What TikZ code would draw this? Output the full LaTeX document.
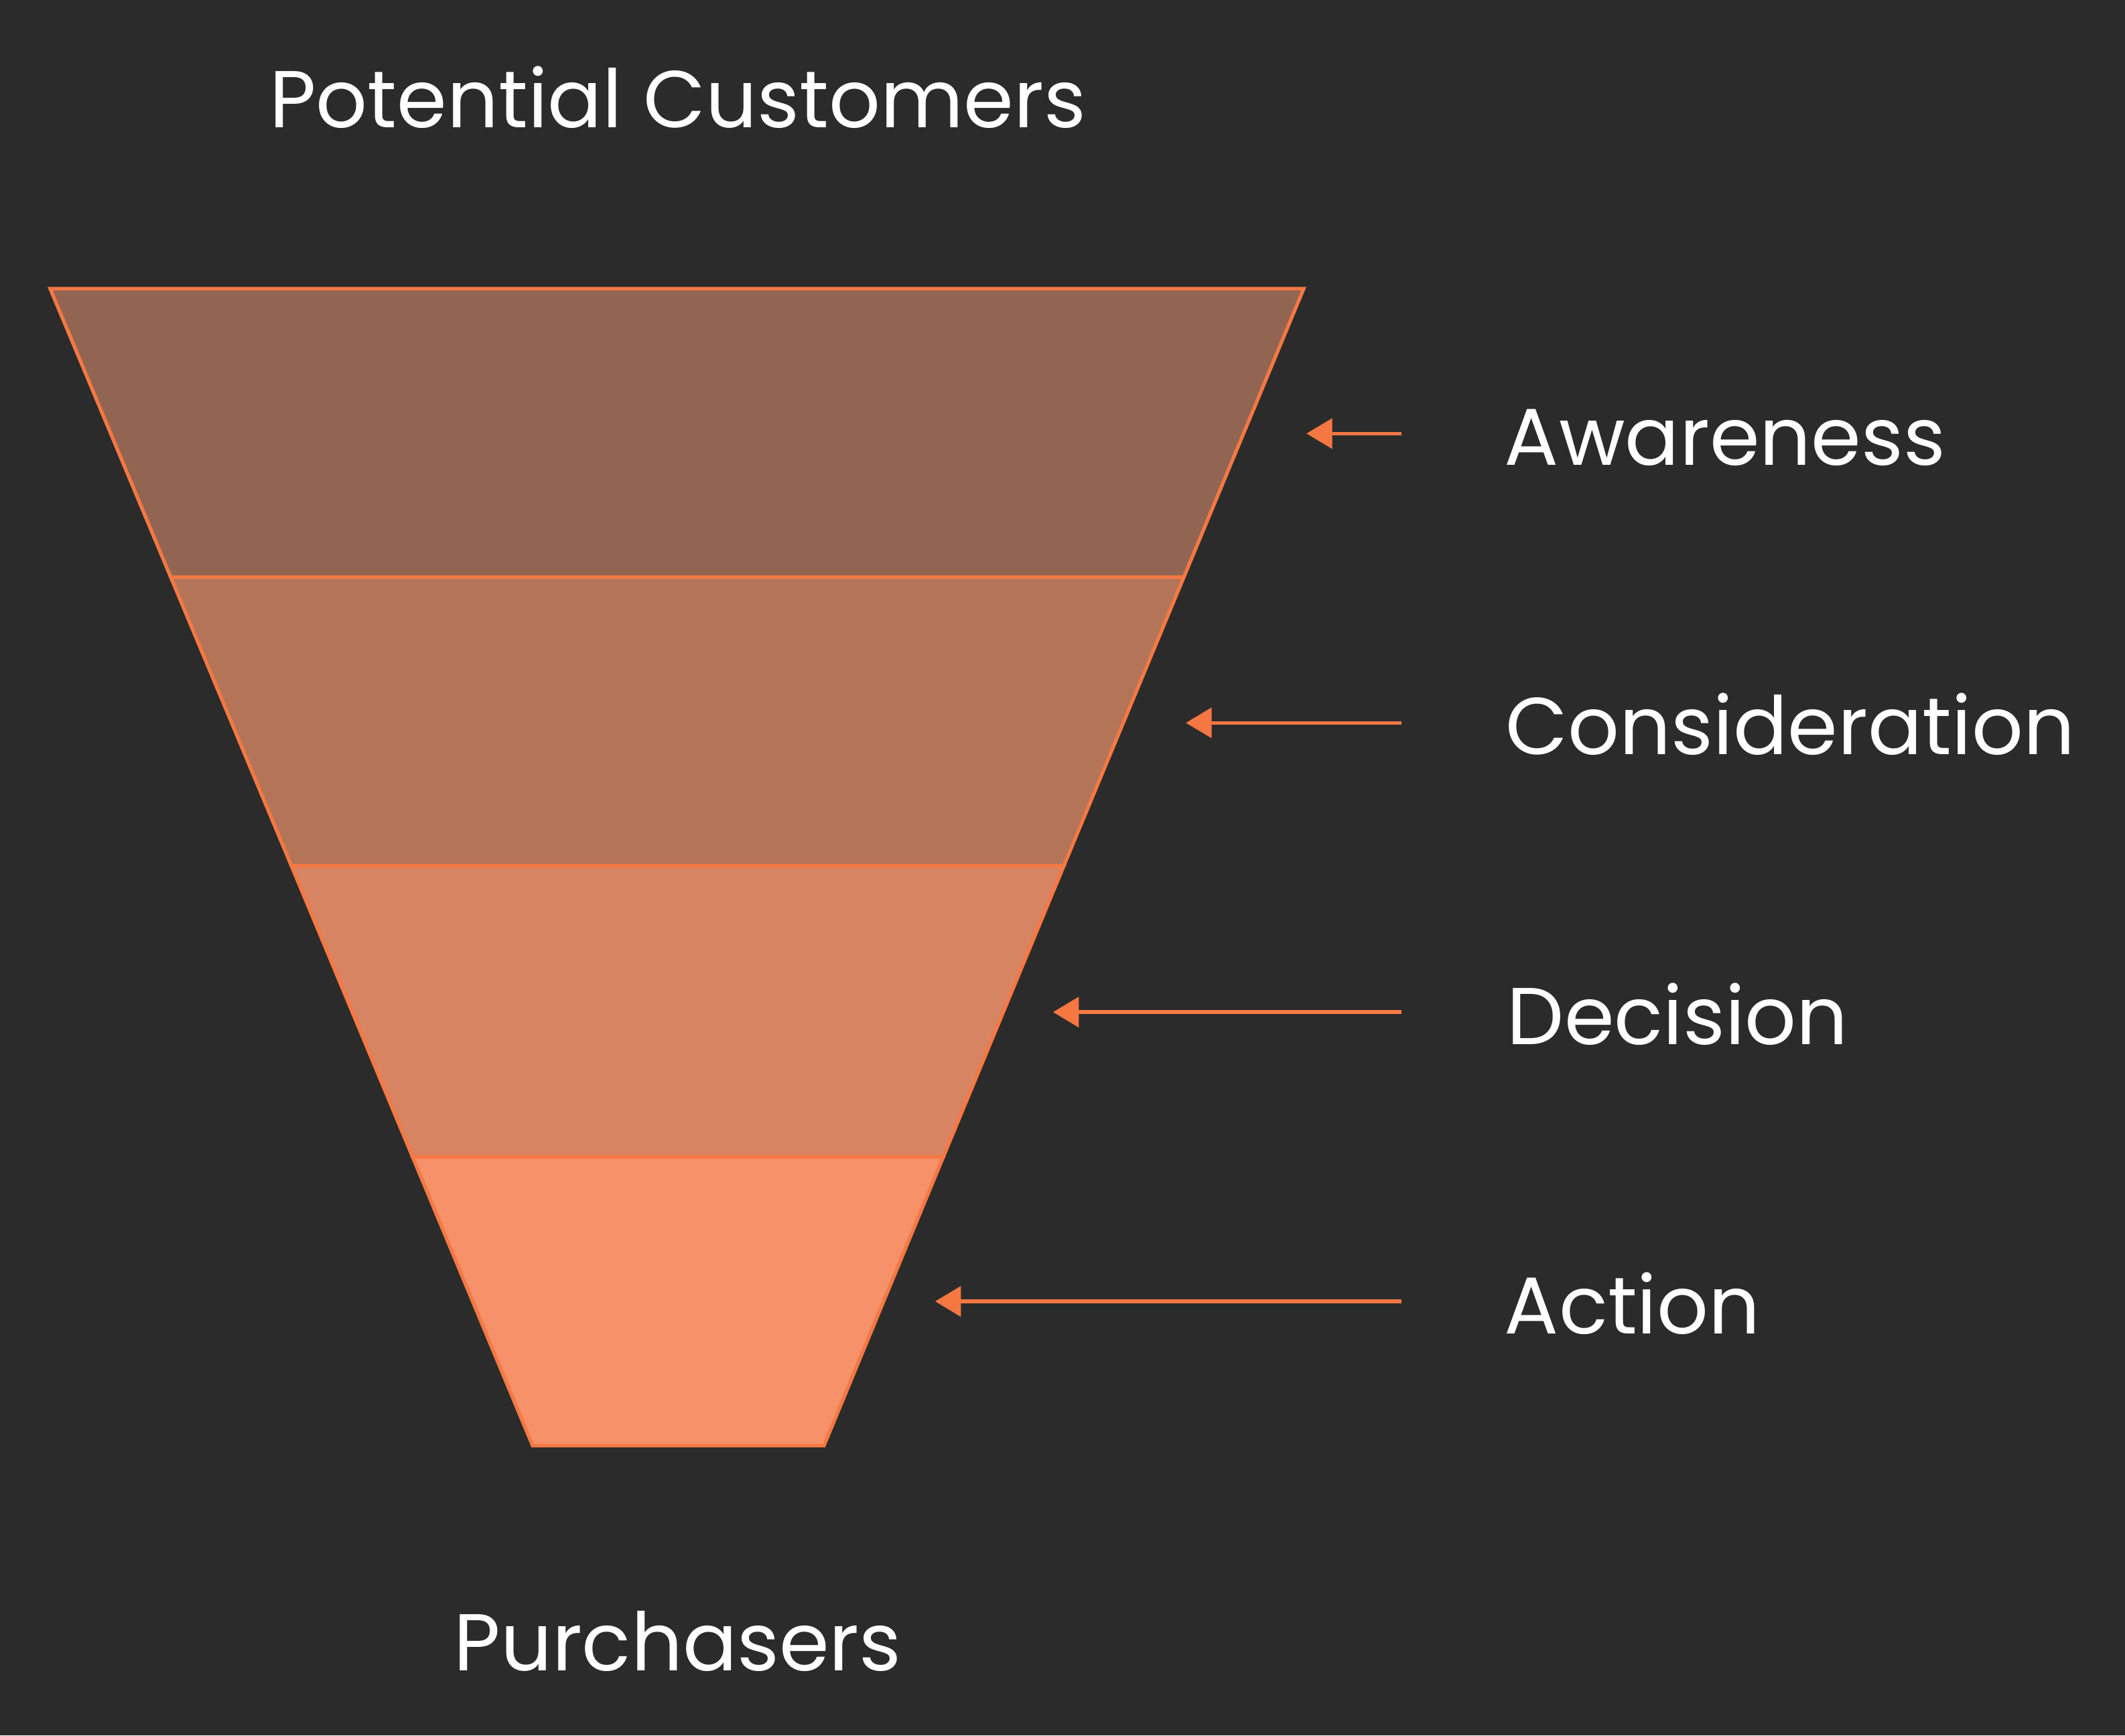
\documentclass[tikz,border=0pt]{standalone}
\usepackage{fontspec}
\setmainfont{Poppins}
\usetikzlibrary{arrows.meta}
\definecolor{bg}{HTML}{2B2B2B}
\definecolor{edge}{HTML}{F57843}
\definecolor{bandA}{HTML}{916551}
\definecolor{bandB}{HTML}{B37458}
\definecolor{bandC}{HTML}{D78462}
\definecolor{bandD}{HTML}{F7916A}
\tikzset{
  band/.style={draw=edge, line width=2.6pt, line join=miter},
  lbl/.style={text=white, font=\fontsize{59.5}{62}\selectfont, anchor=base west, inner sep=0pt},
  ttl/.style={text=white, font=\fontsize{59.5}{62}\selectfont, anchor=base, inner sep=0pt},
  pointer/.style={draw=edge, line width=2.7pt, -{Triangle[length=19pt,width=22pt]}}
}
\begin{document}
\begin{tikzpicture}[x=1pt,y=-1pt]
\fill[bg] (0,0) rectangle (1568,1281);
\useasboundingbox (0,0) rectangle (1568,1281);
% funnel corners
\coordinate (L0) at (37,213);   \coordinate (R0) at (962,213);
\coordinate (L1) at (126,426);  \coordinate (R1) at (873.5,426);
\coordinate (L2) at (215,639);  \coordinate (R2) at (785,639);
\coordinate (L3) at (304.5,854);\coordinate (R3) at (696,854);
\coordinate (L4) at (393,1067); \coordinate (R4) at (608,1067);
\filldraw[band, fill=bandA] (L0) -- (R0) -- (R1) -- (L1) -- cycle;
\filldraw[band, fill=bandB] (L1) -- (R1) -- (R2) -- (L2) -- cycle;
\filldraw[band, fill=bandC] (L2) -- (R2) -- (R3) -- (L3) -- cycle;
\filldraw[band, fill=bandD] (L3) -- (R3) -- (R4) -- (L4) -- cycle;
% labels
\node[ttl] (top) at (500,94) {Potential Customers};
\node[ttl] (bot) at (500,1233) {Purchasers};
\node[lbl] (aw) at (1110,343.5) {Awareness};
\node[lbl] (co) at (1111,557) {Consideration};
\node[lbl] (de) at (1112,771) {Decision};
\node[lbl] (ac) at (1110,984.5) {Action};
% arrows
\coordinate (t1) at (1034,320); \coordinate (h1) at (964,320);
\coordinate (t2) at (1034,533.5); \coordinate (h2) at (875,533.5);
\coordinate (t3) at (1034,747); \coordinate (h3) at (777,747);
\coordinate (t4) at (1034,960.5); \coordinate (h4) at (690,960.5);
\draw[pointer] (t1) -- (h1);
\draw[pointer] (t2) -- (h2);
\draw[pointer] (t3) -- (h3);
\draw[pointer] (t4) -- (h4);
\end{tikzpicture}
\end{document}
